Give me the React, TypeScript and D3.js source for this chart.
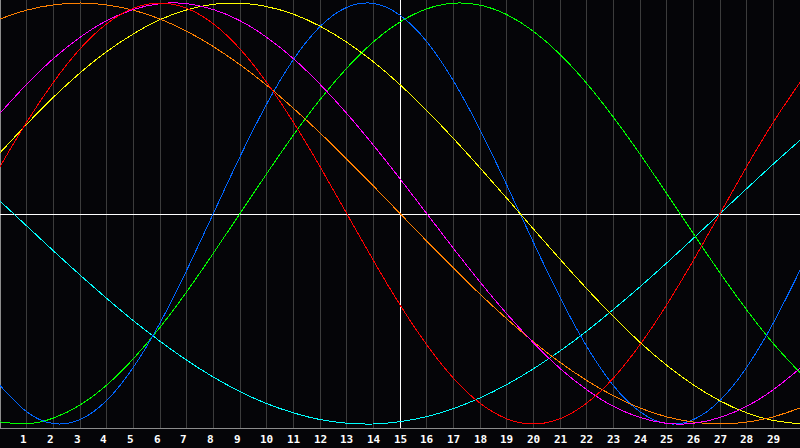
import React from "react";
import * as d3 from "d3";

const days = d3.range(0, 31);
const dayLabels = d3.range(1, 30).map(String);

const blue = [-0.817, -0.942, -0.998, -0.979, -0.888, -0.731, -0.52, -0.27, 0, 0.27, 0.52, 0.731, 0.888, 0.979, 0.998, 0.942, 0.817, 0.631, 0.398, 0.136, -0.136, -0.398, -0.631, -0.817, -0.942, -0.998, -0.979, -0.888, -0.731, -0.52, -0.27];
const red = [0.223, 0.434, 0.623, 0.782, 0.901, 0.975, 1, 0.975, 0.901, 0.782, 0.623, 0.434, 0.223, 0, -0.223, -0.434, -0.623, -0.782, -0.901, -0.975, -1, -0.975, -0.901, -0.782, -0.623, -0.434, -0.223, 0, 0.223, 0.434, 0.623];
const green = [-0.99, -0.999, -0.972, -0.91, -0.815, -0.69, -0.541, -0.372, -0.189, 0, 0.189, 0.372, 0.541, 0.69, 0.815, 0.91, 0.972, 0.999, 0.99, 0.945, 0.866, 0.756, 0.618, 0.458, 0.282, 0.095, -0.095, -0.282, -0.458, -0.618, -0.756];
const magenta = [0.476, 0.614, 0.736, 0.837, 0.916, 0.969, 0.997, 0.997, 0.969, 0.916, 0.837, 0.736, 0.614, 0.476, 0.325, 0.165, 0, -0.165, -0.325, -0.476, -0.614, -0.736, -0.837, -0.916, -0.969, -0.997, -0.997, -0.969, -0.916, -0.837, -0.736];
const yellow = [0.288, 0.424, 0.552, 0.668, 0.769, 0.853, 0.921, 0.967, 0.994, 0.999, 0.983, 0.947, 0.89, 0.814, 0.721, 0.612, 0.489, 0.357, 0.217, 0.073, -0.073, -0.217, -0.357, -0.489, -0.612, -0.721, -0.814, -0.89, -0.947, -0.983, -0.999];
const orange = [0.924, 0.966, 0.991, 1, 0.991, 0.966, 0.924, 0.866, 0.793, 0.707, 0.609, 0.5, 0.383, 0.259, 0.131, 0, -0.131, -0.259, -0.383, -0.5, -0.609, -0.707, -0.793, -0.866, -0.924, -0.966, -0.991, -1, -0.991, -0.966, -0.924];
const cyan = [0.059, -0.059, -0.177, -0.292, -0.403, -0.509, -0.607, -0.697, -0.777, -0.846, -0.903, -0.947, -0.979, -0.996, -1.0, -0.989, -0.965, -0.927, -0.876, -0.813, -0.738, -0.653, -0.559, -0.456, -0.348, -0.235, -0.118, 0, 0.118, 0.235, 0.348];

const seriesList = [
  { name: "spiritual", color: "#00ffff", values: cyan },
  { name: "intellectual", color: "#00ff00", values: green },
  { name: "physical", color: "#0066ff", values: blue },
  { name: "aesthetic", color: "#ffff00", values: yellow },
  { name: "awareness", color: "#ff8000", values: orange },
  { name: "intuitive", color: "#ff00ff", values: magenta },
  { name: "emotional", color: "#ff0000", values: red },
];

const W = 800;
const H = 448;
const axisY = 428;

export default function App() {
  const x = d3.scaleLinear().domain([0, 30]).range([0, W]);
  const y = d3.scaleLinear().domain([-1, 1]).range([424, 3]);
  const line = d3
    .line<number>()
    .x((_, i) => x(days[i]))
    .y((v) => y(v))
    .curve(d3.curveNatural);

  return (
    <div style={{ position: "fixed", left: 0, top: 0, width: W, height: H }}>
      <svg width={W} height={H} style={{ display: "block", background: "#050508" }}>
        <rect x={0} y={0} width={W} height={H} fill="#050508" />
        {dayLabels.map((lab, i) => {
          const gx = Math.floor(x(i + 1)) + 0.5;
          return (
            <g key={lab}>
              <line x1={gx} x2={gx} y1={0} y2={axisY} stroke="#3c3c3c" strokeWidth={1} shapeRendering="crispEdges" />
              <text
                x={Math.floor(x(i + 1)) - 6}
                y={443}
                fill="#ffffff"
                fontFamily="'DejaVu Sans Mono', monospace"
                fontWeight="bold"
                fontSize={11}
              >
                {lab}
              </text>
            </g>
          );
        })}
        <line x1={0} x2={W} y1={axisY + 0.5} y2={axisY + 0.5} stroke="#8c8c8c" strokeWidth={1} shapeRendering="crispEdges" />
        <line x1={0.5} x2={0.5} y1={0} y2={axisY} stroke="#8c8c8c" strokeWidth={1} shapeRendering="crispEdges" />
        <line x1={0} x2={W} y1={214.5} y2={214.5} stroke="#ffffff" strokeWidth={1} shapeRendering="crispEdges" />
        <line x1={x(15) + 0.5} x2={x(15) + 0.5} y1={0} y2={axisY} stroke="#ffffff" strokeWidth={1} shapeRendering="crispEdges" />
        {seriesList.map((s) => (
          <path
            key={s.name}
            d={line(s.values) || ""}
            fill="none"
            stroke={s.color}
            strokeWidth={1}
            shapeRendering="crispEdges"
          />
        ))}
      </svg>
    </div>
  );
}
